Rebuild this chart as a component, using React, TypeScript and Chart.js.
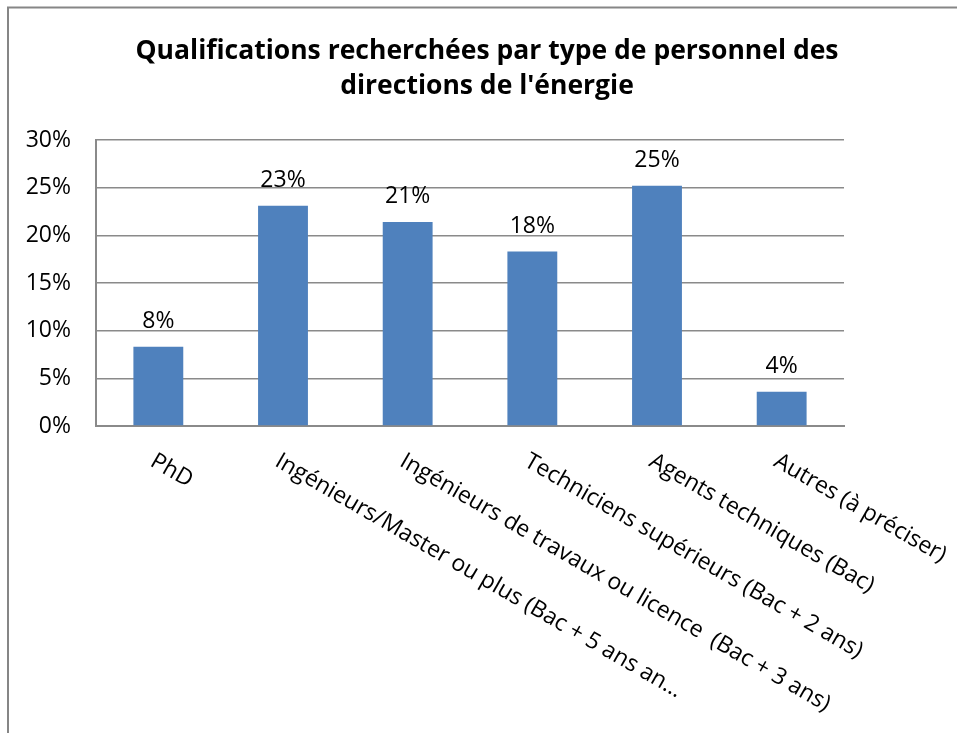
import React, { useEffect, useRef } from "react";
import { Chart, registerables } from "chart.js";

Chart.register(...registerables);

const titleLines = [
  "Qualifications recherchées par type de personnel des",
  "directions de l'énergie",
];
const categories = [
  "PhD",
  "Ingénieurs/Master ou plus (Bac + 5 ans an…",
  "Ingénieurs de travaux ou licence  (Bac + 3 ans)",
  "Techniciens supérieurs (Bac + 2 ans)",
  "Agents techniques (Bac)",
  "Autres (à préciser)",
];
const values = [8.3, 23.1, 21.4, 18.3, 25.2, 3.6];
const dataLabels = ["8%", "23%", "21%", "18%", "25%", "4%"];
const yMin = 0;
const yMax = 30;
const yStep = 5;

const W = 957;
const H = 733;
const FONT = '"Open Sans", "Noto Sans", sans-serif';
const GRID = "#8a8a8a";
const BAR = "#4F81BD";

export default function App() {
  const ref = useRef<HTMLCanvasElement | null>(null);

  useEffect(() => {
    const canvas = ref.current;
    if (!canvas) return;

    const framePlugin = {
      id: "frame",
      beforeDraw(chart: any) {
        const ctx = chart.ctx;
        ctx.save();
        ctx.fillStyle = "#ffffff";
        ctx.fillRect(0, 0, chart.width, chart.height);
        ctx.strokeStyle = "#868686";
        ctx.lineWidth = 2;
        ctx.beginPath();
        ctx.moveTo(8, chart.height);
        ctx.lineTo(8, 7.5);
        ctx.lineTo(chart.width, 7.5);
        ctx.stroke();
        ctx.restore();
      },
    };

    const titlePlugin = {
      id: "customTitle",
      afterDraw(chart: any) {
        const ctx = chart.ctx;
        ctx.save();
        ctx.fillStyle = "#000000";
        ctx.font = `bold 26.5px ${FONT}`;
        ctx.textAlign = "center";
        ctx.textBaseline = "alphabetic";
        ctx.fillText(titleLines[0], 487, 59);
        ctx.fillText(titleLines[1], 487, 94);
        ctx.restore();
      },
    };

    const labelsPlugin = {
      id: "valueLabels",
      afterDatasetsDraw(chart: any) {
        const ctx = chart.ctx;
        const meta = chart.getDatasetMeta(0);
        ctx.save();
        ctx.fillStyle = "#000000";
        ctx.font = `23px ${FONT}`;
        ctx.textAlign = "center";
        ctx.textBaseline = "alphabetic";
        meta.data.forEach((bar: any, i: number) => {
          ctx.fillText(dataLabels[i], bar.x, bar.y - 19);
        });
        ctx.restore();
      },
    };

    const xLabelsPlugin = {
      id: "xLabels",
      afterDraw(chart: any) {
        const ctx = chart.ctx;
        const xs = chart.scales.x;
        const size = 23;
        const capH = 0.714 * size;
        const angle = (30 * Math.PI) / 180;
        ctx.save();
        ctx.fillStyle = "#000000";
        ctx.font = `${size}px ${FONT}`;
        ctx.textAlign = "left";
        ctx.textBaseline = "alphabetic";
        categories.forEach((lab, i) => {
          const cx = xs.getPixelForValue(i);
          ctx.save();
          ctx.translate(cx - 1, chart.chartArea.bottom + 25);
          ctx.rotate(angle);
          ctx.fillText(lab, 0, capH);
          ctx.restore();
        });
        ctx.restore();
      },
    };

    const chart = new Chart(canvas, {
      type: "bar",
      data: {
        labels: categories,
        datasets: [
          {
            data: values,
            backgroundColor: BAR,
            borderWidth: 0,
            barPercentage: 0.4,
            categoryPercentage: 1.0,
          },
        ],
      },
      options: {
        responsive: false,
        animation: false,
        devicePixelRatio: 1,
        layout: { padding: { left: 0, top: 140, right: 113, bottom: 0 } },
        plugins: {
          legend: { display: false },
          title: { display: false },
          tooltip: { enabled: false },
        },
        scales: {
          x: {
            grid: { display: false },
            border: { display: true, color: GRID, width: 2 },
            ticks: { display: false },
            afterFit(scale: any) {
              scale.height = H - 426;
            },
          },
          y: {
            min: yMin,
            max: yMax,
            ticks: {
              stepSize: yStep,
              callback: (v: any) => `${v}%`,
              color: "#000000",
              font: { family: FONT, size: 23 },
              padding: 25,
            },
            grid: { color: GRID, lineWidth: 1.5, drawTicks: false },
            border: { display: true, color: GRID, width: 2 },
            afterFit(scale: any) {
              scale.width = 96;
            },
          },
        },
      },
      plugins: [framePlugin, titlePlugin, labelsPlugin, xLabelsPlugin],
    });

    return () => chart.destroy();
  }, []);

  return (
    <div
      style={{
        position: "absolute",
        left: 0,
        top: 0,
        width: W,
        height: H,
        overflow: "hidden",
        background: "#ffffff",
      }}
    >
      <canvas ref={ref} width={W} height={H} style={{ display: "block" }} />
    </div>
  );
}
